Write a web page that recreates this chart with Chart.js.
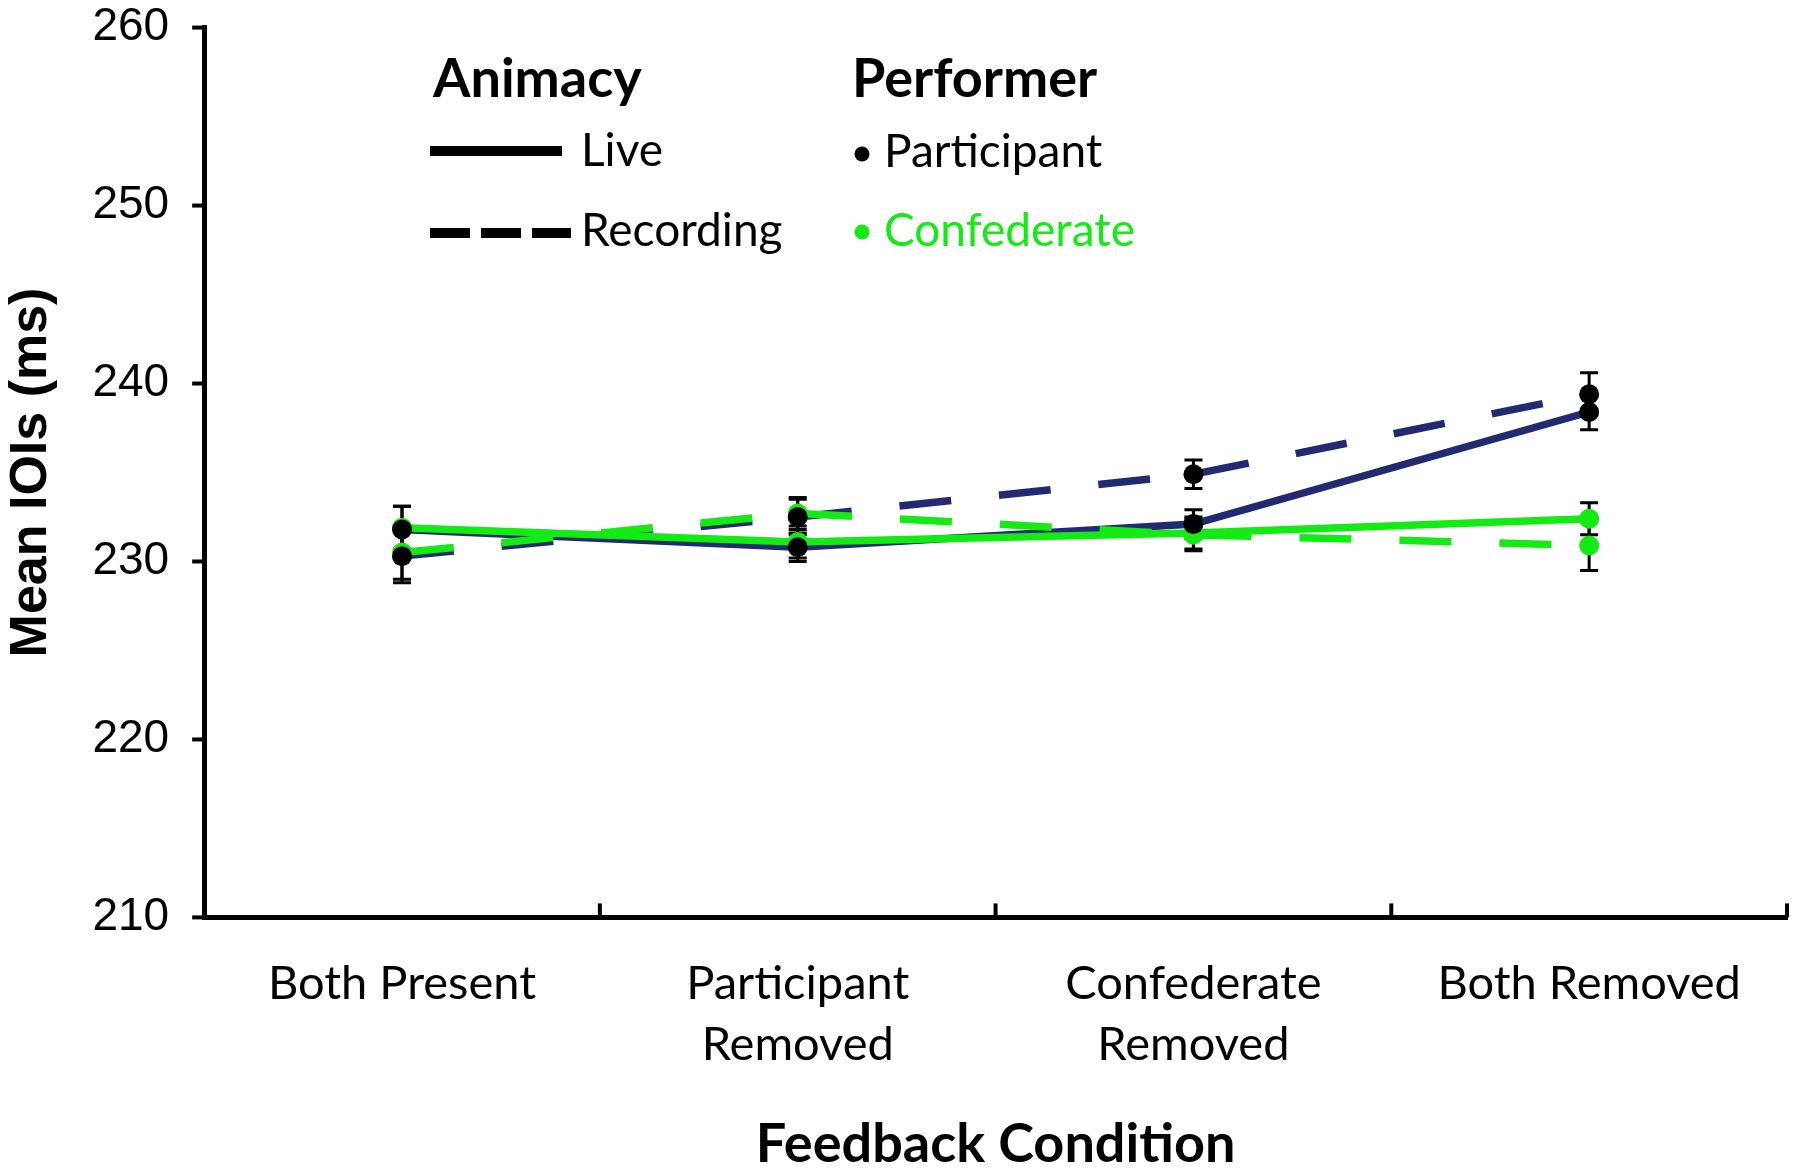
<!DOCTYPE html>
<html>
<head>
<meta charset="utf-8">
<script src="https://cdn.jsdelivr.net/npm/chart.js@4.4.1/dist/chart.umd.min.js"></script>
<style>
  html, body { margin: 0; padding: 0; background: #fff; }
  #wrap { width: 1798px; height: 1174px; position: relative; }
</style>
</head>
<body>
<div id="wrap"><canvas id="ioiChart"></canvas></div>
<script>
// categories and values
const categories = ['Both Present', ['Participant', 'Removed'], ['Confederate', 'Removed'], 'Both Removed'];
const yTicks = [210, 220, 230, 240, 250, 260];

const liveParticipant = [231.8, 230.8, 232.1, 238.4];
const recParticipant = [230.3, 232.5, 234.9, 239.4];
const liveConfederate = [231.9, 231.1, 231.6, 232.4];
const recConfederate = [230.5, 232.7, 231.5, 230.9];

// error bar half-lengths
const liveParticipantErr = [1.3, 0.8, 0.8, 1.0];
const recParticipantErr = [1.5, 1.0, 0.8, 1.2];
const liveConfederateErr = [1.2, 0.9, 0.9, 0.9];
const recConfederateErr = [1.5, 0.9, 0.9, 1.4];

const NAVY = '#222b72';
const GREEN = '#14ea14';
const SANS = '"Liberation Sans", Arial, sans-serif';
const HUMAN = 'Lato, "Open Sans", sans-serif';

// error bars under the lines
const errorBars = {
    id: 'errorBars',
    beforeDatasetsDraw(chart) {
        const { ctx, scales: { x, y } } = chart;
        const sets = [
            [liveParticipant, liveParticipantErr],
            [recParticipant, recParticipantErr],
            [liveConfederate, liveConfederateErr],
            [recConfederate, recConfederateErr]
        ];
        ctx.save();
        ctx.strokeStyle = '#000';
        ctx.lineWidth = 3;
        sets.forEach(([vals, errs]) => {
            vals.forEach((v, i) => {
                const px = x.getPixelForValue(i);
                const top = y.getPixelForValue(v + errs[i]);
                const bot = y.getPixelForValue(v - errs[i]);
                ctx.beginPath();
                ctx.moveTo(px, top); ctx.lineTo(px, bot);
                ctx.moveTo(px - 9, top); ctx.lineTo(px + 9, top);
                ctx.moveTo(px - 9, bot); ctx.lineTo(px + 9, bot);
                ctx.stroke();
            });
        });
        ctx.restore();
    }
};

// short tick marks: outward on y, inward (up) on x between categories
const axisTicks = {
    id: 'axisTicks',
    afterDraw(chart) {
        const { ctx, scales: { x, y }, chartArea } = chart;
        ctx.save();
        ctx.strokeStyle = '#000';
        ctx.lineWidth = 4;
        for (let i = 1; i <= categories.length; i++) {
            const px = x.getPixelForValue(i - 0.5);
            ctx.beginPath();
            ctx.moveTo(px, chartArea.bottom);
            ctx.lineTo(px, chartArea.bottom - 14);
            ctx.stroke();
        }
        y.ticks.forEach(t => {
            const py = y.getPixelForValue(t.value);
            ctx.beginPath();
            ctx.moveTo(chartArea.left - 12, py);
            ctx.lineTo(chartArea.left, py);
            ctx.stroke();
        });
        ctx.restore();
    }
};

// two-column legend (Animacy / Performer)
const groupLegend = {
    id: 'groupLegend',
    afterDraw(chart) {
        const ctx = chart.ctx;
        ctx.save();
        ctx.fillStyle = '#000';
        ctx.textAlign = 'left';
        ctx.textBaseline = 'alphabetic';
        ctx.font = 'bold 54px ' + HUMAN;
        ctx.fillText('Animacy', 433, 97);
        ctx.fillText('Performer', 852, 97);

        ctx.strokeStyle = '#000';
        ctx.lineWidth = 10;
        ctx.beginPath();
        ctx.moveTo(430, 151); ctx.lineTo(562, 151);
        ctx.stroke();
        ctx.setLineDash([40, 11]);
        ctx.beginPath();
        ctx.moveTo(430, 233); ctx.lineTo(571, 233);
        ctx.stroke();
        ctx.setLineDash([]);

        ctx.font = '46px ' + HUMAN;
        ctx.textBaseline = 'middle';
        ctx.fillText('Live', 581, 151);
        ctx.fillText('Recording', 581, 231);

        ctx.beginPath();
        ctx.arc(862, 154, 7.5, 0, Math.PI * 2);
        ctx.fill();
        ctx.fillText('Participant', 884, 152);

        ctx.fillStyle = GREEN;
        ctx.beginPath();
        ctx.arc(862, 232, 7.5, 0, Math.PI * 2);
        ctx.fill();
        ctx.fillText('Confederate', 884, 231);
        ctx.restore();
    }
};

const lineSet = (data, color, dashed, order, pointColor) => ({
    data,
    borderColor: color,
    borderWidth: 7.5,
    borderDash: dashed ? [52, 48] : [],
    pointRadius: pointColor ? 10 : 0,
    pointBackgroundColor: pointColor,
    pointBorderWidth: 0,
    tension: 0,
    fill: false,
    order
});

const pointSet = (data, order) => ({
    data,
    showLine: false,
    pointRadius: 10,
    pointBackgroundColor: '#000',
    pointBorderWidth: 0,
    order
});

const draw = () => {
    const ctx = document.getElementById('ioiChart').getContext('2d');
    new Chart(ctx, {
        type: 'line',
        data: {
            labels: categories,
            datasets: [
                pointSet(liveParticipant, 0),
                pointSet(recParticipant, 0),
                lineSet(liveConfederate, GREEN, false, 1, GREEN),
                lineSet(recConfederate, GREEN, true, 2, GREEN),
                lineSet(liveParticipant, NAVY, false, 3, null),
                lineSet(recParticipant, NAVY, true, 4, null)
            ]
        },
        options: {
            responsive: true,
            maintainAspectRatio: false,
            animation: false,
            devicePixelRatio: 1,
            layout: { padding: { left: 0, right: 11, top: 0, bottom: 0 } },
            plugins: {
                legend: { display: false },
                tooltip: { enabled: false }
            },
            scales: {
                x: {
                    offset: true,
                    grid: { display: false },
                    border: { display: true, color: '#000', width: 5 },
                    ticks: {
                        color: '#000',
                        padding: 28,
                        maxRotation: 0,
                        autoSkip: false,
                        font: { family: HUMAN, size: 47, lineHeight: 1.3 }
                    },
                    title: {
                        display: true,
                        text: 'Feedback Condition',
                        color: '#000',
                        font: { family: HUMAN, size: 54, weight: 'bold', lineHeight: 1.1 },
                        padding: { top: 11, bottom: 0 }
                    }
                },
                y: {
                    min: yTicks[0],
                    max: yTicks[yTicks.length - 1],
                    afterBuildTicks: (scale) => { scale.ticks = yTicks.map(v => ({ value: v })); },
                    grid: {
                        drawOnChartArea: false,
                        drawTicks: true,
                        tickLength: 35,
                        tickColor: 'rgba(0,0,0,0)'
                    },
                    border: { display: true, color: '#000', width: 5 },
                    ticks: {
                        color: '#000',
                        padding: 0,
                        font: { family: SANS, size: 46 }
                    },
                    title: {
                        display: true,
                        text: 'Mean IOIs (ms)',
                        color: '#000',
                        font: { family: SANS, size: 52, weight: 'bold', lineHeight: 1.2 },
                        padding: { top: 0, bottom: 30 }
                    }
                }
            }
        },
        plugins: [errorBars, axisTicks, groupLegend]
    });
};

Promise.all([
    document.fonts.load('46px Lato'),
    document.fonts.load('bold 54px Lato'),
    document.fonts.load('46px "Liberation Sans"'),
    document.fonts.load('bold 52px "Liberation Sans"')
]).then(draw, draw);
</script>
</body>
</html>
